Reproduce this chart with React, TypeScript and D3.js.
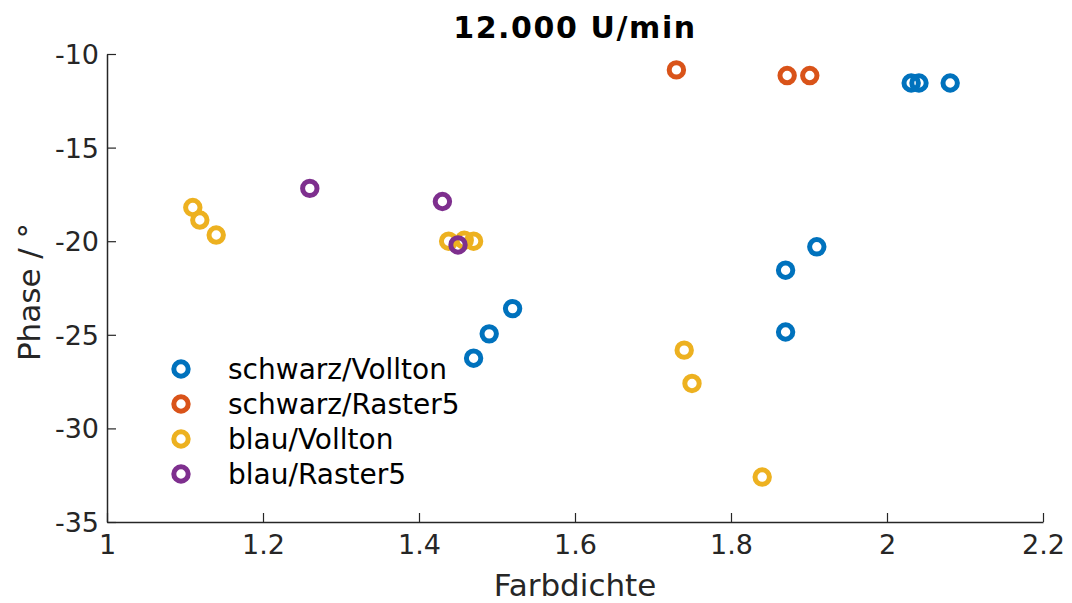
import React, { useEffect, useRef } from 'react';
import * as d3 from 'd3';

// data
const seriesNames = ['schwarz/Vollton', 'schwarz/Raster5', 'blau/Vollton', 'blau/Raster5'];
const seriesColors = ['#0072BD', '#D95319', '#EDB120', '#7E2F8E'];

const schwarzVolltonX = [2.031, 2.041, 2.081, 1.91, 1.87, 1.87, 1.52, 1.49, 1.47];
const schwarzVolltonY = [-11.55, -11.55, -11.55, -20.3, -21.55, -24.85, -23.6, -24.95, -26.25];
const schwarzRasterX = [1.73, 1.872, 1.901];
const schwarzRasterY = [-10.85, -11.15, -11.15];
const blauVolltonX = [1.11, 1.119, 1.14, 1.438, 1.458, 1.47, 1.74, 1.75, 1.84];
const blauVolltonY = [-18.2, -18.87, -19.67, -20.0, -19.95, -20.0, -25.82, -27.6, -32.6];
const blauRasterX = [1.26, 1.43, 1.45];
const blauRasterY = [-17.18, -17.88, -20.2];

const xTicks = [1, 1.2, 1.4, 1.6, 1.8, 2, 2.2];
const yTicks = [-35, -30, -25, -20, -15, -10];

export default function App() {
    const ref = useRef<SVGSVGElement>(null);

    useEffect(() => {
        const svg = d3.select(ref.current);
        svg.selectAll('*').remove();
        const font = '"DejaVu Sans", Verdana, sans-serif';
        const left = 107, right = 1043, top = 54, bottom = 522;
        const r = 7.2, sw = 5;

        const x = d3.scaleLinear().domain([1, 2.2]).range([left, right]);
        const y = d3.scaleLinear().domain([-35, -10]).range([bottom, top]);

        const series = [
            [schwarzVolltonX, schwarzVolltonY],
            [schwarzRasterX, schwarzRasterY],
            [blauVolltonX, blauVolltonY],
            [blauRasterX, blauRasterY],
        ];

        const xAxis = d3.axisBottom(x).tickValues(xTicks).tickSizeInner(-9).tickSizeOuter(0)
            .tickPadding(12).tickFormat(d => String(+d));
        const yAxis = d3.axisLeft(y).tickValues(yTicks).tickSizeInner(-9).tickSizeOuter(0)
            .tickPadding(8).tickFormat(d => String(+d));

        const gx = svg.append('g').attr('transform', `translate(0,${bottom})`).call(xAxis);
        const gy = svg.append('g').attr('transform', `translate(${left},0)`).call(yAxis);
        [gx, gy].forEach(g => {
            g.select('.domain').attr('stroke', '#262626').attr('stroke-width', 1.5);
            g.selectAll('.tick line').attr('stroke', '#262626').attr('stroke-width', 1.2);
            g.selectAll('.tick text').attr('fill', '#262626').attr('font-size', 27)
                .attr('font-family', font);
        });
        gy.selectAll('.tick text').attr('dy', '0.35em');
        gx.selectAll('.tick text').attr('dy', '0.75em');

        series.forEach((s, i) => {
            svg.append('g').selectAll('circle')
                .data(d3.range(s[0].length))
                .enter()
                .append('circle')
                .attr('cx', j => x(s[0][j]))
                .attr('cy', j => y(s[1][j]))
                .attr('r', r)
                .attr('fill', 'none')
                .attr('stroke', seriesColors[i])
                .attr('stroke-width', sw);
        });

        // legend
        const legend = svg.append('g');
        seriesNames.forEach((name, i) => {
            const ly = 369 + i * 35;
            legend.append('circle').attr('cx', 181).attr('cy', ly).attr('r', r)
                .attr('fill', 'none').attr('stroke', seriesColors[i]).attr('stroke-width', sw);
            legend.append('text').attr('x', 228).attr('y', ly).attr('dy', '0.36em')
                .attr('font-size', 28).attr('font-family', font).attr('fill', '#000')
                .text(name);
        });

        svg.append('text').attr('x', (left + right) / 2).attr('y', 38)
            .attr('text-anchor', 'middle').attr('font-size', 30).attr('font-weight', 'bold')
            .attr('letter-spacing', 1.6)
            .attr('font-family', font).attr('fill', '#000').text('12.000 U/min');

        svg.append('text').attr('x', (left + right) / 2).attr('y', 596)
            .attr('text-anchor', 'middle').attr('font-size', 31)
            .attr('font-family', font).attr('fill', '#262626').text('Farbdichte');

        svg.append('text').attr('transform', `translate(40,${(top + bottom) / 2 + 4}) rotate(-90)`)
            .attr('text-anchor', 'middle').attr('font-size', 31)
            .attr('font-family', font).attr('fill', '#262626').text('Phase / °');
    }, []);

    return (
        <svg ref={ref} width={1072} height={603}
             style={{ position: 'absolute', left: 0, top: 0, background: '#fff' }} />
    );
}
